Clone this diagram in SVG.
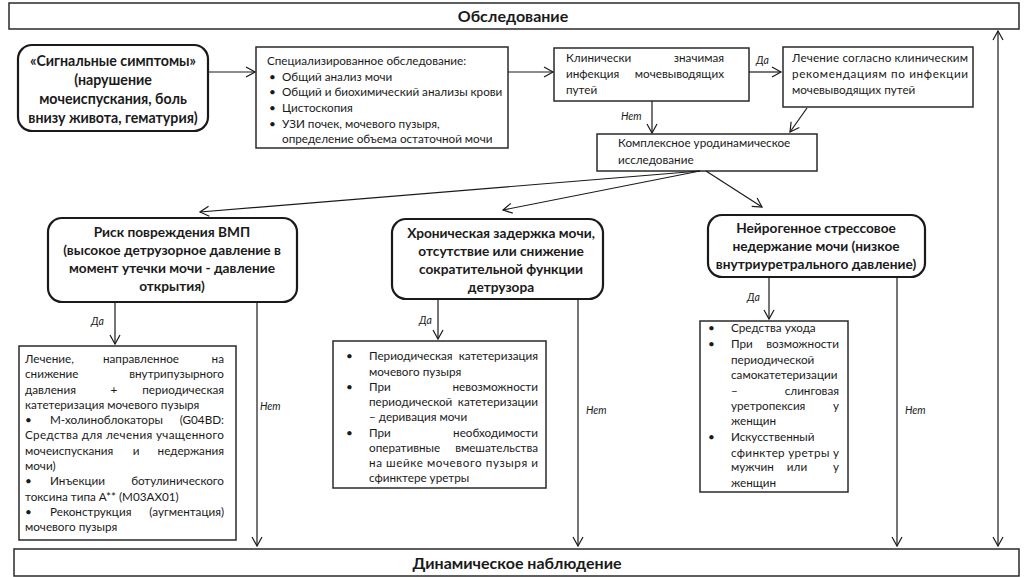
<svg xmlns="http://www.w3.org/2000/svg" width="1024" height="577" viewBox="0 0 1024 577">
<defs>
<marker id="ah" markerWidth="12" markerHeight="12" refX="10" refY="6" orient="auto" markerUnits="userSpaceOnUse">
<path d="M1,1 L10,6 L1,11" fill="none" stroke="#1a1a1a" stroke-width="1.2"/>
</marker>
<marker id="ahs" markerWidth="12" markerHeight="12" refX="2" refY="6" orient="auto" markerUnits="userSpaceOnUse">
<path d="M11,1 L2,6 L11,11" fill="none" stroke="#1a1a1a" stroke-width="1.2"/>
</marker>
<style>
text{font-family:Lato,"Liberation Sans",sans-serif;fill:#1a1a1a}
.t{font-size:11.7px}
.b{font-size:13.7px;font-weight:bold}
.b1{font-size:14.2px;font-weight:bold}
.h{font-size:16px;font-weight:bold}
.l{font-size:10.5px;font-style:italic}
.box{fill:#fff;stroke:#2a2a2a;stroke-width:1.5}
.rbox{fill:#fff;stroke:#1a1a1a;stroke-width:2.2}
.c line,.c path{stroke:#1a1a1a;stroke-width:1.2;fill:none}
.e{text-anchor:end}
.m{text-anchor:middle}
</style>
</defs>
<rect width="1024" height="577" fill="#fff"/>

<g id="top">
<rect class="box" x="9" y="3" width="1010" height="26"/>
<text class="h m" x="513" y="22">Обследование</text>
</g>

<g id="bottom">
<rect class="box" x="14" y="549" width="1005" height="27"/>
<text class="h m" x="517" y="569">Динамическое наблюдение</text>
</g>

<g id="n1">
<rect class="rbox" x="18" y="45" width="190" height="86" rx="14"/>
<text class="b1 m" x="113" y="66">«Сигнальные симптомы»</text>
<text class="b1 m" x="113" y="85">(нарушение</text>
<text class="b1 m" x="113" y="104">мочеиспускания, боль</text>
<text class="b1 m" x="113" y="123">внизу живота, гематурия)</text>
</g>

<g id="n2">
<rect class="box" x="256" y="47" width="252" height="101"/>
<text class="t" x="267" y="65">Специализированное обследование:</text>
<text class="t" x="269" y="81">•</text><text class="t" x="282" y="81">Общий анализ мочи</text>
<text class="t" x="269" y="96">•</text><text class="t" x="282" y="96">Общий и биохимический анализы крови</text>
<text class="t" x="269" y="112">•</text><text class="t" x="282" y="112">Цистоскопия</text>
<text class="t" x="269" y="128">•</text><text class="t" x="282" y="128">УЗИ почек, мочевого пузыря,</text>
<text class="t" x="282" y="143">определение объема остаточной мочи</text>
</g>

<g id="n3">
<rect class="box" x="554" y="48" width="195" height="53"/>
<text class="t" x="566" y="62">Клинически</text><text class="t e" x="724" y="62">значимая</text>
<text class="t" x="566" y="78">инфекция</text><text class="t e" x="724" y="78">мочевыводящих</text>
<text class="t" x="566" y="94">путей</text>
</g>

<g id="n4">
<rect class="box" x="783" y="47" width="190" height="60"/>
<text class="t" x="792" y="62" textLength="176" lengthAdjust="spacing">Лечение согласно клиническим</text>
<text class="t" x="792" y="78" textLength="176" lengthAdjust="spacing">рекомендациям по инфекции</text>
<text class="t" x="792" y="94">мочевыводящих путей</text>
</g>

<g id="n5">
<rect class="box" x="597" y="134" width="220" height="37"/>
<text class="t" x="618" y="147">Комплексное уродинамическое</text>
<text class="t" x="618" y="164">исследование</text>
</g>

<g id="n6">
<rect class="rbox" x="48" y="218" width="249" height="84" rx="14"/>
<text class="b m" x="172" y="237">Риск повреждения ВМП</text>
<text class="b m" x="172" y="255">(высокое детрузорное давление в</text>
<text class="b m" x="172" y="273">момент утечки мочи - давление</text>
<text class="b m" x="172" y="291">открытия)</text>
</g>

<g id="n7">
<rect class="rbox" x="392" y="219" width="211" height="80" rx="14"/>
<text class="b m" x="501" y="238">Хроническая задержка мочи,</text>
<text class="b m" x="501" y="256">отсутствие или снижение</text>
<text class="b m" x="501" y="274">сократительной функции</text>
<text class="b m" x="501" y="292">детрузора</text>
</g>

<g id="n8">
<rect class="rbox" x="708" y="215" width="217" height="62" rx="14"/>
<text class="b m" x="816" y="233">Нейрогенное стрессовое</text>
<text class="b m" x="816" y="251">недержание мочи (низкое</text>
<text class="b m" x="816" y="269">внутриуретрального давление)</text>
</g>

<g id="n9">
<rect class="box" x="19" y="346" width="217" height="194"/>
<text class="t" x="25" y="363">Лечение,</text><text class="t m" x="141" y="363">направленное</text><text class="t e" x="224" y="363">на</text>
<text class="t" x="25" y="378">снижение</text><text class="t e" x="224" y="378">внутрипузырного</text>
<text class="t" x="25" y="394">давления</text><text class="t m" x="114" y="394">+</text><text class="t e" x="224" y="394">периодическая</text>
<text class="t" x="25" y="409">катетеризация мочевого пузыря</text>
<text class="t" x="25" y="424">•</text><text class="t" x="50" y="424">М-холиноблокаторы</text><text class="t e" x="224" y="424">(G04BD:</text>
<text class="t" x="25" y="439" textLength="199" lengthAdjust="spacing">Средства для лечения учащенного</text>
<text class="t" x="25" y="455">мочеиспускания</text><text class="t m" x="136" y="455">и</text><text class="t e" x="224" y="455">недержания</text>
<text class="t" x="25" y="470">мочи)</text>
<text class="t" x="25" y="485">•</text><text class="t" x="50" y="485">Инъекции</text><text class="t e" x="224" y="485">ботулинического</text>
<text class="t" x="25" y="501">токсина типа А** (M03AX01)</text>
<text class="t" x="25" y="516">•</text><text class="t" x="50" y="516">Реконструкция</text><text class="t e" x="224" y="516">(аугментация)</text>
<text class="t" x="25" y="531">мочевого пузыря</text>
</g>

<g id="n10">
<rect class="box" x="333" y="341" width="213" height="147"/>
<text class="t" x="346" y="360">•</text><text class="t" x="369" y="360">Периодическая</text><text class="t e" x="538" y="360">катетеризация</text>
<text class="t" x="369" y="376">мочевого пузыря</text>
<text class="t" x="346" y="391">•</text><text class="t" x="369" y="391">При</text><text class="t e" x="538" y="391">невозможности</text>
<text class="t" x="369" y="406">периодической</text><text class="t e" x="538" y="406">катетеризации</text>
<text class="t" x="369" y="421">– деривация мочи</text>
<text class="t" x="346" y="437">•</text><text class="t" x="369" y="437">При</text><text class="t e" x="538" y="437">необходимости</text>
<text class="t" x="369" y="452">оперативные</text><text class="t e" x="538" y="452">вмешательства</text>
<text class="t" x="369" y="467" textLength="169" lengthAdjust="spacing">на шейке мочевого пузыря и</text>
<text class="t" x="369" y="482">сфинктере уретры</text>
</g>

<g id="n11">
<rect class="box" x="700" y="321" width="148" height="171"/>
<text class="t" x="708" y="332">•</text><text class="t" x="731" y="332">Средства ухода</text>
<text class="t" x="708" y="348">•</text><text class="t" x="731" y="348">При</text><text class="t e" x="839" y="348">возможности</text>
<text class="t" x="731" y="364">периодической</text>
<text class="t" x="731" y="379">самокатетеризации</text>
<text class="t" x="731" y="395">–</text><text class="t e" x="839" y="395">слинговая</text>
<text class="t" x="731" y="410">уретропексия</text><text class="t e" x="839" y="410">у</text>
<text class="t" x="731" y="425">женщин</text>
<text class="t" x="708" y="441">•</text><text class="t" x="731" y="441">Искусственный</text>
<text class="t" x="731" y="457" textLength="108" lengthAdjust="spacing">сфинктер уретры у</text>
<text class="t" x="731" y="471">мужчин</text><text class="t m" x="797" y="471">или</text><text class="t e" x="839" y="471">у</text>
<text class="t" x="731" y="487">женщин</text>
</g>

<g id="connectors" class="c">
<line x1="208" y1="72" x2="255" y2="72" marker-end="url(#ah)"/>
<line x1="508" y1="72" x2="553" y2="72" marker-end="url(#ah)"/>
<line x1="749" y1="72" x2="781" y2="72" marker-end="url(#ah)"/>
<line x1="652" y1="101" x2="652" y2="133" marker-end="url(#ah)"/>
<line x1="807" y1="108" x2="790" y2="132" marker-end="url(#ah)"/>
<line x1="700" y1="171" x2="200" y2="212" marker-end="url(#ah)"/>
<line x1="700" y1="171" x2="503" y2="210" marker-end="url(#ah)"/>
<line x1="706" y1="171" x2="762" y2="207" marker-end="url(#ah)"/>
<line x1="115" y1="302" x2="115" y2="344" marker-end="url(#ah)"/>
<line x1="257" y1="302" x2="257" y2="546" marker-end="url(#ah)"/>
<line x1="438" y1="299" x2="438" y2="339" marker-end="url(#ah)"/>
<line x1="578" y1="299" x2="578" y2="546" marker-end="url(#ah)"/>
<line x1="769" y1="277" x2="769" y2="319" marker-end="url(#ah)"/>
<line x1="897" y1="277" x2="897" y2="546" marker-end="url(#ah)"/>
<line x1="998" y1="31" x2="998" y2="546" marker-start="url(#ahs)" marker-end="url(#ah)"/>
</g>

<g id="labels">
<text class="l" x="756" y="64">Да</text>
<text class="l" x="621" y="120">Нет</text>
<text class="l" x="91" y="325">Да</text>
<text class="l" x="260" y="410">Нет</text>
<text class="l" x="419" y="324">Да</text>
<text class="l" x="586" y="414">Нет</text>
<text class="l" x="747" y="301">Да</text>
<text class="l" x="905" y="414">Нет</text>
</g>
</svg>
